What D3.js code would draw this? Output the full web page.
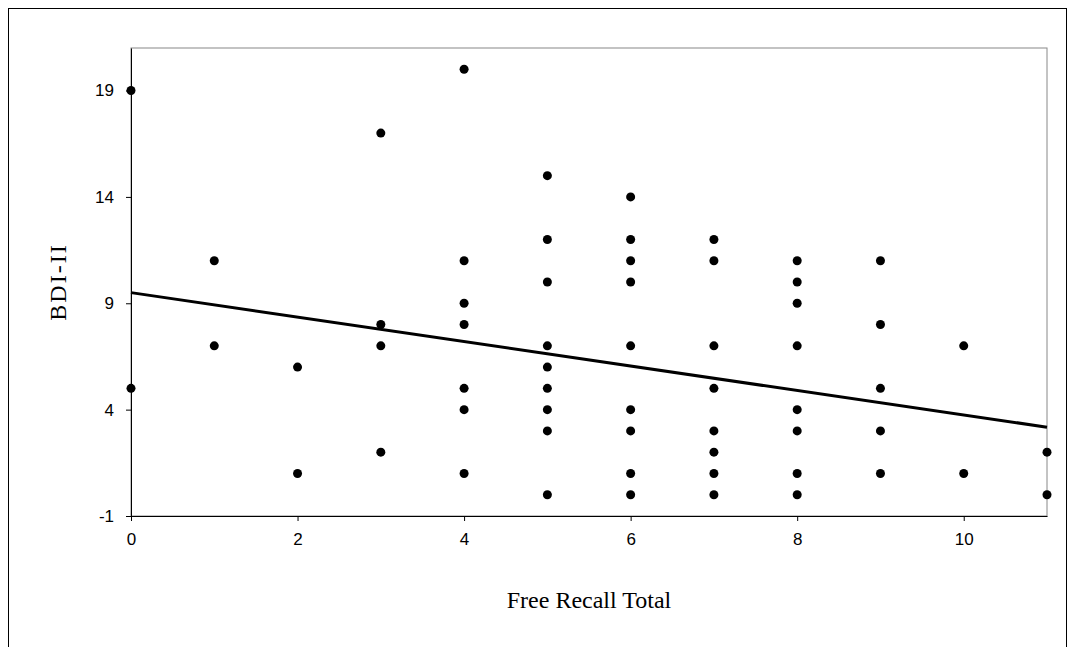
<!DOCTYPE html>
<html><head><meta charset="utf-8">
<script src="https://cdn.jsdelivr.net/npm/d3@7"></script>
<style>body{margin:0;background:#fff}</style></head>
<body><svg id="c" width="1075" height="647"></svg>
<script>
const xs = [0,0, 1,1, 2,2, 3,3,3,3, 4,4,4,4,4,4,4, 5,5,5,5,5,5,5,5,5, 6,6,6,6,6,6,6,6,6, 7,7,7,7,7,7,7,7, 8,8,8,8,8,8,8,8, 9,9,9,9,9, 10,10, 11,11];
const ys = [19,5, 11,7, 6,1, 17,8,7,2, 20,11,9,8,5,4,1, 15,12,10,7,6,5,4,3,0, 14,12,11,10,7,4,3,1,0, 12,11,7,5,3,2,1,0, 11,10,9,7,4,3,1,0, 11,8,5,3,1, 7,1, 2,0];
const xTicks = [0,2,4,6,8,10];
const yTicks = [-1,4,9,14,19];
const fitIntercept = 9.5, fitSlope = -0.575;
const xTitle = "Free Recall Total", yTitle = "BDI-II";

const svg = d3.select("#c");
svg.append("rect").attr("x",8.5).attr("y",8.5).attr("width",1058).attr("height",650).attr("fill","none").attr("stroke","#000");
const L=131,R=1047,T=48,B=516;
const x = d3.scaleLinear().domain([0,11]).range([L,R]);
const y = d3.scaleLinear().domain([-1,21]).range([B,T]);
svg.append("rect").attr("x",L).attr("y",T).attr("width",R-L).attr("height",B-T).attr("fill","none").attr("stroke","#888");
const gx = svg.append("g").attr("transform",`translate(0,${B})`).call(d3.axisBottom(x).tickValues(xTicks).tickFormat(d=>String(d)).tickSize(5).tickSizeOuter(0).tickPadding(12));
const gy = svg.append("g").attr("transform",`translate(${L},0)`).call(d3.axisLeft(y).tickValues(yTicks).tickFormat(d=>String(d)).tickSize(5).tickSizeOuter(0).tickPadding(12));
[gx,gy].forEach(g=>{g.attr("font-size",17).selectAll("text").attr("font-family","Arial, Liberation Sans").style("font-size","17px").attr("fill","#000");g.select(".domain").attr("stroke","#000");});
svg.append("g").selectAll("circle").data(xs.map((v,i)=>[v,ys[i]])).join("circle")
  .attr("cx",d=>x(d[0])).attr("cy",d=>y(d[1])).attr("r",4.5).attr("fill","#000");
svg.append("line").attr("x1",x(0)).attr("y1",y(fitIntercept)).attr("x2",x(11)).attr("y2",y(fitIntercept+11*fitSlope)).attr("stroke","#000").attr("stroke-width",3);
svg.append("text").attr("x",(L+R)/2).attr("y",608).attr("text-anchor","middle").attr("font-family","Times New Roman, Liberation Serif").attr("font-size",24).text(xTitle);
svg.append("text").attr("transform",`translate(66,${(T+B)/2}) rotate(-90)`).attr("text-anchor","middle").attr("font-family","Times New Roman, Liberation Serif").attr("font-size",24).attr("letter-spacing",2).text(yTitle);
</script></body></html>
